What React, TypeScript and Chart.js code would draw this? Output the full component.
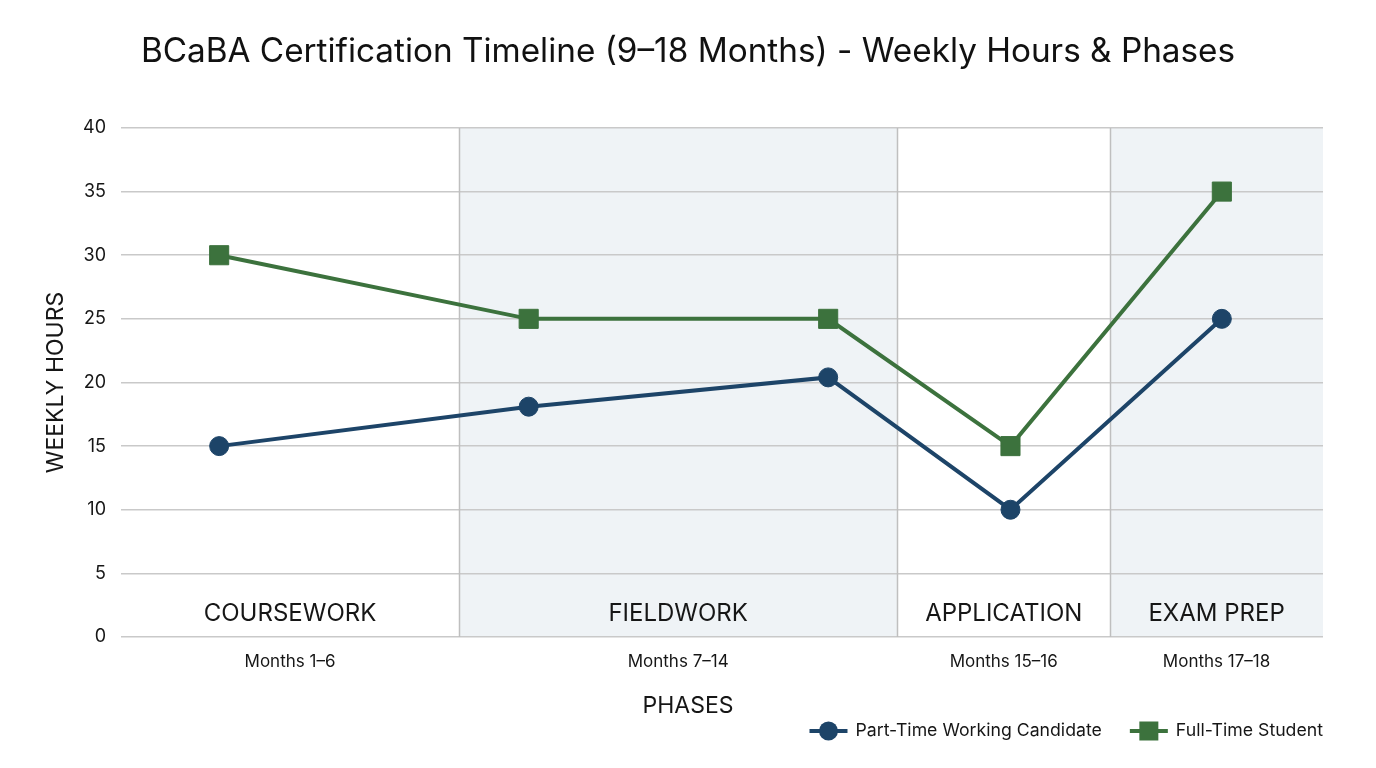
import React, { useEffect, useRef } from "react";
import { Chart, registerables } from "chart.js";

Chart.register(...registerables);

// ---- data ----
const phaseNames = ["COURSEWORK", "FIELDWORK", "APPLICATION", "EXAM PREP"];
const phaseMonths = ["Months 1–6", "Months 7–14", "Months 15–16", "Months 17–18"];
const phaseBounds = [0, 3.375, 7.75, 9.875, 12];
const phaseShaded = [false, true, false, true];
const pointX = [0.98, 4.07, 7.06, 8.88, 10.99];
const partTimeHours = [15, 18.1, 20.4, 10, 25];
const fullTimeHours = [30, 25, 25, 15, 35];

const NAVY = "#1d4468";
const GREEN = "#3c723d";
const FONT = "Inter, 'Open Sans', sans-serif";
const TEXT = "#161616";

const phasePlugin = {
  id: "phases",
  beforeDraw(chart: any) {
    const { ctx, chartArea: a, scales } = chart;
    const x = scales.x;
    ctx.save();
    ctx.fillStyle = "#eff3f6";
    phaseShaded.forEach((s, i) => {
      if (!s) return;
      const x0 = x.getPixelForValue(phaseBounds[i]);
      const x1 = x.getPixelForValue(phaseBounds[i + 1]);
      ctx.fillRect(x0, a.top, x1 - x0, a.bottom - a.top);
    });
    ctx.restore();
  },
  beforeDatasetsDraw(chart: any) {
    const { ctx, chartArea: a, scales } = chart;
    const x = scales.x;
    const y = scales.y;
    ctx.save();
    ctx.strokeStyle = "#bfbfbf";
    ctx.lineWidth = 1.5;
    for (let i = 1; i < phaseBounds.length - 1; i++) {
      const px = Math.round(x.getPixelForValue(phaseBounds[i])) + 0.5;
      ctx.beginPath();
      ctx.moveTo(px, a.top);
      ctx.lineTo(px, a.bottom);
      ctx.stroke();
    }
    ctx.fillStyle = TEXT;
    ctx.font = `24px ${FONT}`;
    ctx.textAlign = "center";
    ctx.textBaseline = "middle";
    const ly = y.getPixelForValue(2) + 2;
    phaseNames.forEach((n, i) => {
      const cx = x.getPixelForValue((phaseBounds[i] + phaseBounds[i + 1]) / 2);
      ctx.fillText(n, cx, ly);
    });
    // x axis title, centred on the canvas
    ctx.font = `23px ${FONT}`;
    ctx.fillText("PHASES", chart.width / 2, a.bottom + 69);
    ctx.restore();
  },
};

const legendPlugin = {
  id: "lineLegend",
  afterDraw(chart: any) {
    const { ctx, chartArea: a } = chart;
    ctx.save();
    ctx.font = `17.7px ${FONT}`;
    const iconW = 38;
    const gapIcon = 8;
    const gapItem = 28;
    const items = chart.data.datasets.map((ds: any) => ({
      text: ds.label,
      color: ds.borderColor,
      style: ds.pointStyle,
      w: iconW + gapIcon + ctx.measureText(ds.label).width,
    }));
    const total = items.reduce((s: number, it: any) => s + it.w, 0) + gapItem * (items.length - 1);
    let cx = a.right - total;
    const cy = chart.height - 37;
    items.forEach((it: any) => {
      ctx.strokeStyle = it.color;
      ctx.fillStyle = it.color;
      ctx.lineWidth = 4;
      ctx.beginPath();
      ctx.moveTo(cx, cy);
      ctx.lineTo(cx + iconW, cy);
      ctx.stroke();
      const mx = cx + iconW / 2;
      if (it.style === "rect") {
        ctx.fillRect(mx - 9.5, cy - 9.5, 19, 19);
      } else {
        ctx.beginPath();
        ctx.arc(mx, cy, 9.5, 0, Math.PI * 2);
        ctx.fill();
      }
      ctx.fillStyle = TEXT;
      ctx.textAlign = "left";
      ctx.textBaseline = "middle";
      ctx.fillText(it.text, cx + iconW + gapIcon, cy);
      cx += it.w + gapItem;
    });
    ctx.restore();
  },
};

export default function App() {
  const ref = useRef<HTMLCanvasElement | null>(null);

  useEffect(() => {
    if (!ref.current) return;
    const chart = new Chart(ref.current, {
      type: "line",
      data: {
        datasets: [
          {
            label: "Part-Time Working Candidate",
            data: pointX.map((xv, i) => ({ x: xv, y: partTimeHours[i] })),
            borderColor: NAVY,
            backgroundColor: NAVY,
            borderWidth: 4,
            pointStyle: "circle",
            pointRadius: 9.5,
            pointBorderWidth: 1,
            tension: 0,
          },
          {
            label: "Full-Time Student",
            data: pointX.map((xv, i) => ({ x: xv, y: fullTimeHours[i] })),
            borderColor: GREEN,
            backgroundColor: GREEN,
            borderWidth: 4,
            pointStyle: "rect",
            pointRadius: 13.5,
            pointBorderWidth: 1,
            tension: 0,
          },
        ],
      },
      options: {
        animation: false,
        responsive: true,
        maintainAspectRatio: false,
        layout: { padding: { left: 0, right: 0, top: 0, bottom: 51 } },
        plugins: {
          legend: { display: false },
          tooltip: { enabled: false },
          title: {
            display: true,
            text: "BCaBA Certification Timeline (9–18 Months) - Weekly Hours & Phases",
            color: "#111",
            font: { family: FONT, size: 33.3, weight: "normal", lineHeight: 1.2 },
            padding: { top: 32, bottom: 56 },
          },
        },
        scales: {
          x: {
            type: "linear",
            min: phaseBounds[0],
            max: phaseBounds[phaseBounds.length - 1],
            grid: { display: false },
            border: { display: false },
            afterBuildTicks: (scale: any) => {
              scale.ticks = phaseNames.map((_, i) => ({
                value: (phaseBounds[i] + phaseBounds[i + 1]) / 2,
              }));
            },
            afterFit: (scale: any) => {
              scale.height = 80;
            },
            ticks: {
              autoSkip: false,
              maxRotation: 0,
              padding: 7,
              color: TEXT,
              font: { family: FONT, size: 17, lineHeight: 1.2 },
              callback: (_v: any, i: number) => phaseMonths[i],
            },
          },
          y: {
            min: 0,
            max: 40,
            afterFit: (scale: any) => {
              scale.width = 121;
            },
            grid: { color: "#c9c9c9", lineWidth: 1.5, drawTicks: false },
            border: { display: false },
            ticks: {
              stepSize: 5,
              padding: 15,
              color: TEXT,
              font: { family: FONT, size: 18 },
            },
            title: {
              display: true,
              text: "WEEKLY HOURS",
              color: TEXT,
              font: { family: FONT, size: 23, lineHeight: 1.2 },
              padding: { top: 42, bottom: 0 },
            },
          },
          yRight: {
            type: "linear",
            position: "right",
            display: true,
            grid: { display: false },
            border: { display: false },
            ticks: { display: false },
            afterFit: (scale: any) => {
              scale.width = 53;
            },
          },
        },
      },
      plugins: [phasePlugin, legendPlugin],
    });
    return () => chart.destroy();
  }, []);

  return (
    <div style={{ position: "absolute", left: 0, top: 0, width: 1376, height: 768, background: "#fff" }}>
      <canvas ref={ref} />
    </div>
  );
}
